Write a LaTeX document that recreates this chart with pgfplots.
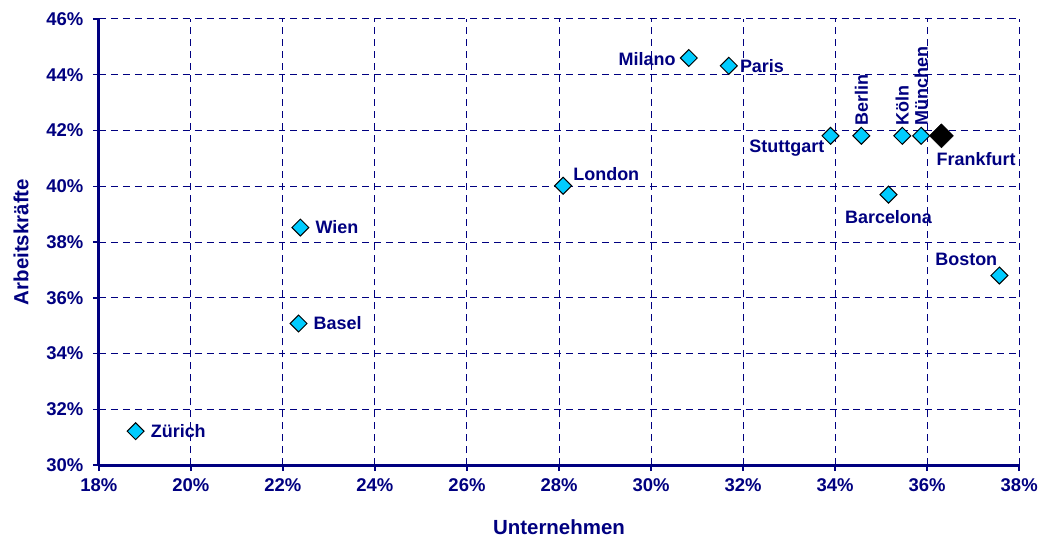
\documentclass[border=0pt]{standalone}
\usepackage{pgfplots}
\pgfplotsset{compat=1.18}
\usepackage{fontspec}
\setmainfont{Liberation Sans}
\definecolor{navy}{RGB}{0,0,128}
\definecolor{cyanc}{RGB}{0,204,255}
\tikzset{
  pt/.style={only marks, mark=square*, mark size=6pt,
    mark options={rotate=45, fill=cyanc, draw=black, line width=1pt}},
  lab/.style={text=navy, font=\fontsize{18}{21}\selectfont\bfseries, inner sep=0pt},
}
\begin{document}
\begin{tikzpicture}
\begin{axis}[
  scale only axis, width=922pt, height=447pt,
  xmin=18, xmax=38, ymin=30, ymax=46,
  xtick={18,20,...,38}, ytick={30,32,...,46},
  axis x line*=bottom, axis y line*=left,
  axis line style={line width=3pt, navy, -},
  grid=major,
  major grid style={navy, line width=1pt, dash pattern=on 7pt off 5pt},
  tick align=outside, major tick length=6pt,
  every tick/.style={navy, line width=1.5pt},
  /pgf/number format/assume math mode=true,
  font=\fontsize{18}{21}\selectfont\bfseries,
  tick label style={text=navy, font=\fontsize{18.5}{21}\selectfont\bfseries},
  yticklabel style={xshift=-6pt},
  xticklabel style={yshift=-4pt},
  xticklabel={\pgfmathprintnumber{\tick}\%},
  yticklabel={\pgfmathprintnumber{\tick}\%},
  label style={text=navy, font=\fontsize{20.5}{24}\selectfont\bfseries},
  xlabel={Unternehmen}, ylabel={Arbeitskräfte},
  xlabel style={at={([yshift=-62pt]axis description cs:0.5,0)}, anchor=center},
  ylabel style={at={([xshift=-78pt]axis description cs:0,0.5)}, anchor=center},
  clip=false,
]
\path (rel axis cs:0,0) ++(-99pt,-75pt) (rel axis cs:1,1) ++(20pt,19pt);
\addplot[pt] coordinates {(18.80,31.22)} node[lab, anchor=west, xshift=15pt] {Zürich};
\addplot[pt] coordinates {(22.34,35.08)} node[lab, anchor=west, xshift=15pt] {Basel};
\addplot[pt] coordinates {(22.38,38.52)} node[lab, anchor=west, xshift=15pt] {Wien};
\addplot[pt] coordinates {(28.09,40.02)} node[lab, anchor=south west, xshift=10pt, yshift=5pt] {London};
\addplot[pt] coordinates {(30.82,44.60)} node[lab, anchor=east, xshift=-13pt, yshift=-1pt] {Milano};
\addplot[pt] coordinates {(31.69,44.32)} node[lab, anchor=west, xshift=11pt] {Paris};
\addplot[pt] coordinates {(33.90,41.81)} node[lab, anchor=north east, xshift=-6pt, yshift=-4pt] {Stuttgart};
\addplot[pt] coordinates {(34.57,41.81)} node[lab, anchor=west, rotate=90, xshift=10pt] {Berlin};
\addplot[pt] coordinates {(35.46,41.81)} node[lab, anchor=west, rotate=90, xshift=10pt] {Köln};
\addplot[pt] coordinates {(35.87,41.81)} node[lab, anchor=west, rotate=90, xshift=10pt] {München};
\addplot[pt] coordinates {(35.16,39.70)} node[lab, anchor=north, yshift=-16pt] {Barcelona};
\addplot[pt] coordinates {(37.57,36.80)} node[lab, anchor=south east, xshift=-2pt, yshift=10pt] {Boston};
\addplot[only marks, mark=square*, mark size=8.5pt,
  mark options={rotate=45, fill=black, draw=black}] coordinates {(36.31,41.81)}
  node[lab, anchor=north west, xshift=-5pt, yshift=-16pt] {Frankfurt};
\end{axis}
\end{tikzpicture}
\end{document}
